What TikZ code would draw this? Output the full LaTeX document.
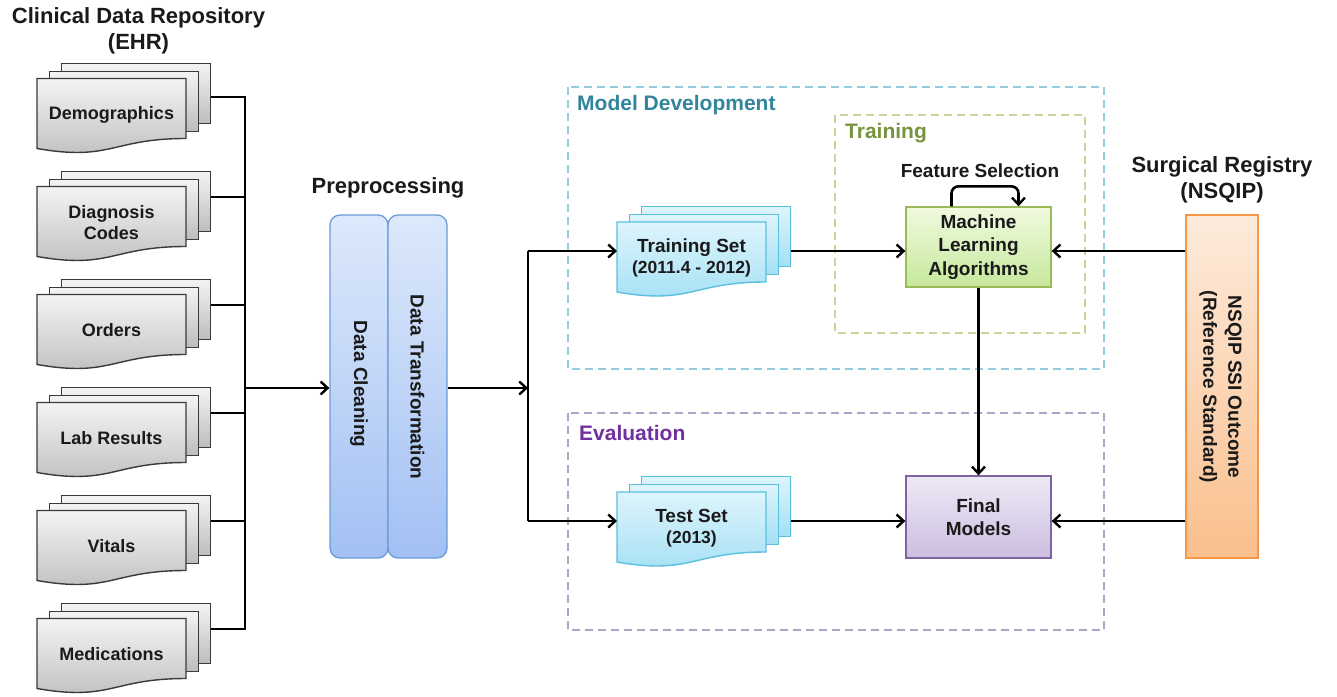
\documentclass[tikz,border=0pt]{standalone}
\usepackage{fontspec}
\setmainfont{Liberation Sans}
\usetikzlibrary{arrows.meta}
\newcommand\fsz[2]{\fontsize{#1}{#2}\selectfont}
\definecolor{mdline}{HTML}{93CDDD}
\definecolor{mdtext}{HTML}{31859C}
\definecolor{trline}{HTML}{C3D69B}
\definecolor{trtext}{HTML}{77933C}
\definecolor{evline}{HTML}{B3A2C7}
\definecolor{evtext}{HTML}{7030A0}
\definecolor{gdraw}{HTML}{3A3A3A}
\definecolor{gtop}{HTML}{F4F4F4}
\definecolor{gbot}{HTML}{BDBDBD}
\definecolor{cdraw}{HTML}{5BBFDE}
\definecolor{ctop}{HTML}{DDF4FC}
\definecolor{cbot}{HTML}{A3E0F5}
\definecolor{pdraw}{HTML}{6C9BD8}
\definecolor{ptop}{HTML}{DDE9FB}
\definecolor{pbot}{HTML}{A2C0F3}
\definecolor{mldraw}{HTML}{9BBB59}
\definecolor{mltop}{HTML}{F0FADF}
\definecolor{mlbot}{HTML}{C6E89C}
\definecolor{fdraw}{HTML}{8064A2}
\definecolor{ftop}{HTML}{EFE9F6}
\definecolor{fbot}{HTML}{CBBDE0}
\definecolor{ndraw}{HTML}{F79646}
\definecolor{ntop}{HTML}{FDEBDC}
\definecolor{nbot}{HTML}{FABF8D}
\definecolor{txt}{HTML}{1A1A1A}
\begin{document}
\begin{tikzpicture}[x=1pt,y=-1pt,
  every node/.style={font=\bfseries\fsz{18}{21.5}, inner sep=0pt, text=txt},
  line/.style={line width=2.6pt, black},
  conn/.style={line, -{Straight Barb[length=7pt,width=13pt,line width=2.4pt]}},
  greydoc/.style={draw=gdraw, line width=1.4pt, top color=gtop, bottom color=gbot},
  cyandoc/.style={draw=cdraw, line width=1.4pt, top color=ctop, bottom color=cbot},
  sheet/.style={minimum width=149pt, minimum height=60pt, anchor=north west},
  prebox/.style={draw=pdraw, line width=1.3pt, top color=ptop, bottom color=pbot,
    rounded corners=10pt, minimum height=343pt},
  mlbox/.style={draw=mldraw, line width=1.3pt, top color=mltop, bottom color=mlbot,
    minimum width=145pt, minimum height=80pt, align=center, font=\bfseries\fsz{19}{23.5}},
  finbox/.style={draw=fdraw, line width=1.3pt, top color=ftop, bottom color=fbot,
    minimum width=145pt, minimum height=82pt, align=center, font=\bfseries\fsz{19}{23.5}},
  nsqbox/.style={draw=ndraw, line width=1.3pt, top color=ntop, bottom color=nbot,
    minimum width=72pt, minimum height=343pt},
  header/.style={align=center, font=\bfseries\fsz{22}{25.5}},
  grouplabel/.style={anchor=west, font=\bfseries\fsz{21}{25}},
  groupbox/.style={line width=1.8pt, dash pattern=on 8pt off 5pt},
  pics/mdoc/.style 2 args={code={
    \node[#1, sheet] (-back) at (24,0) {};
    \node[#1, sheet] (-mid) at (12,8) {};
    \path[#1] (0,16) -- (149,16) -- (149,76) .. controls (74.5,76) and (74.5,99) .. (0,86) -- cycle;
    \node[minimum width=149pt, minimum height=70pt, anchor=north west] (-f) at (0,16) {};
    \node[align=center] (-txt) at (74.5,52) {#2};
  }},
]
\useasboundingbox (0,0) rectangle (1337,696);
\fill[white] (0,0) rectangle (1337,696);

% group boxes
\draw[groupbox, mdline] (568,87) rectangle (1104,369);
\node[grouplabel, text=mdtext] (mdl) at (577,105) {Model Development};
\draw[groupbox, trline] (835,115) rectangle (1085,333);
\node[grouplabel, text=trtext] (trl) at (845,133) {Training};
\draw[groupbox, evline] (568,413) rectangle (1104,630);
\node[grouplabel, text=evtext] (evl) at (579,433) {Evaluation};

% headers
\node[header] (ehr) at (138.5,31) {Clinical Data Repository\\(EHR)};
\node[header] (prep) at (388,188) {Preprocessing};
\node[header] (surg) at (1222,180) {Surgical Registry\\(NSQIP)};
\node[font=\bfseries\fsz{19}{23}] (fs) at (980,171) {Feature Selection};

% EHR documents
\pic (demo)  at (37,62.5)  {mdoc={greydoc}{Demographics}};
\pic (diag)  at (37,170.5) {mdoc={greydoc}{Diagnosis\\Codes}};
\pic (ord)   at (37,278.5) {mdoc={greydoc}{Orders}};
\pic (lab)   at (37,386.5) {mdoc={greydoc}{Lab Results}};
\pic (vit)   at (37,494.5) {mdoc={greydoc}{Vitals}};
\pic (meds)  at (37,602.5) {mdoc={greydoc}{Medications}};

% preprocessing
\node[prebox, minimum width=58pt] (clean) at (359,386.5) {};
\node[prebox, minimum width=59pt] (trans) at (417.5,386.5) {};
\node[rotate=-90, font=\bfseries\fsz{19}{23}] (cleanT) at (359,384) {Data Cleaning};
\node[rotate=-90, font=\bfseries\fsz{19}{23}] (transT) at (417.5,387) {Data Transformation};

% data sets
\pic (train) at (617,206) {mdoc={cyandoc}{{\fsz{19}{24}Training Set}\\{\fsz{17.5}{24}(2011.4 - 2012)}}};
\pic (test)  at (617,476) {mdoc={cyandoc}{{\fsz{19}{24}Test Set}\\{\fsz{17.5}{24}(2013)}}};

% models
\node[mlbox] (ml) at (978.5,247) {Machine\\Learning\\Algorithms};
\node[finbox] (fin) at (978.5,517) {Final\\Models};

% NSQIP
\node[nsqbox] (nsq) at (1222,386.5) {};
\node[rotate=-90, align=center, font=\bfseries\fsz{19}{25}] (nsqT) at (1220.5,387) {NSQIP SSI Outcome\\(Reference Standard)};

% connectors
\coordinate (b1) at (245,97);
\coordinate (b2) at (245,197);
\coordinate (b3) at (245,305);
\coordinate (b4) at (245,413);
\coordinate (b5) at (245,521);
\coordinate (b6) at (245,629);
\coordinate (bmid) at (245,388);
\draw[line] (demo-back.east |- b1) -- (b1) -- (b6) -- (meds-back.east |- b6);
\draw[line] (diag-back.east |- b2) -- (b2);
\draw[line] (ord-back.east |- b3) -- (b3);
\draw[line] (lab-back.east |- b4) -- (b4);
\draw[line] (vit-back.east |- b5) -- (b5);
\draw[conn] (bmid) -- (clean.west |- bmid);

\coordinate (split) at (528,388);
\coordinate (splitT) at (528,251);
\coordinate (splitB) at (528,521);
\draw[conn] (trans.east |- split) -- (split);
\draw[line] (splitT) -- (splitB);
\draw[conn] (splitT) -- (train-f.west |- splitT);
\draw[conn] (splitB) -- (test-f.west |- splitB);
\draw[conn] (train-back.east |- splitT) -- (ml.west |- splitT);
\draw[conn] (test-back.east |- splitB) -- (fin.west |- splitB);
\draw[conn] (nsq.west |- splitT) -- (ml.east |- splitT);
\draw[conn] (nsq.west |- splitB) -- (fin.east |- splitB);
\draw[conn] (ml.south) -- (fin.north);
\draw[conn, rounded corners=7pt] ([xshift=-27pt]ml.north) -- ++(0,-20) -- ++(67,0) -- ([xshift=40pt]ml.north);
\end{tikzpicture}
\end{document}
